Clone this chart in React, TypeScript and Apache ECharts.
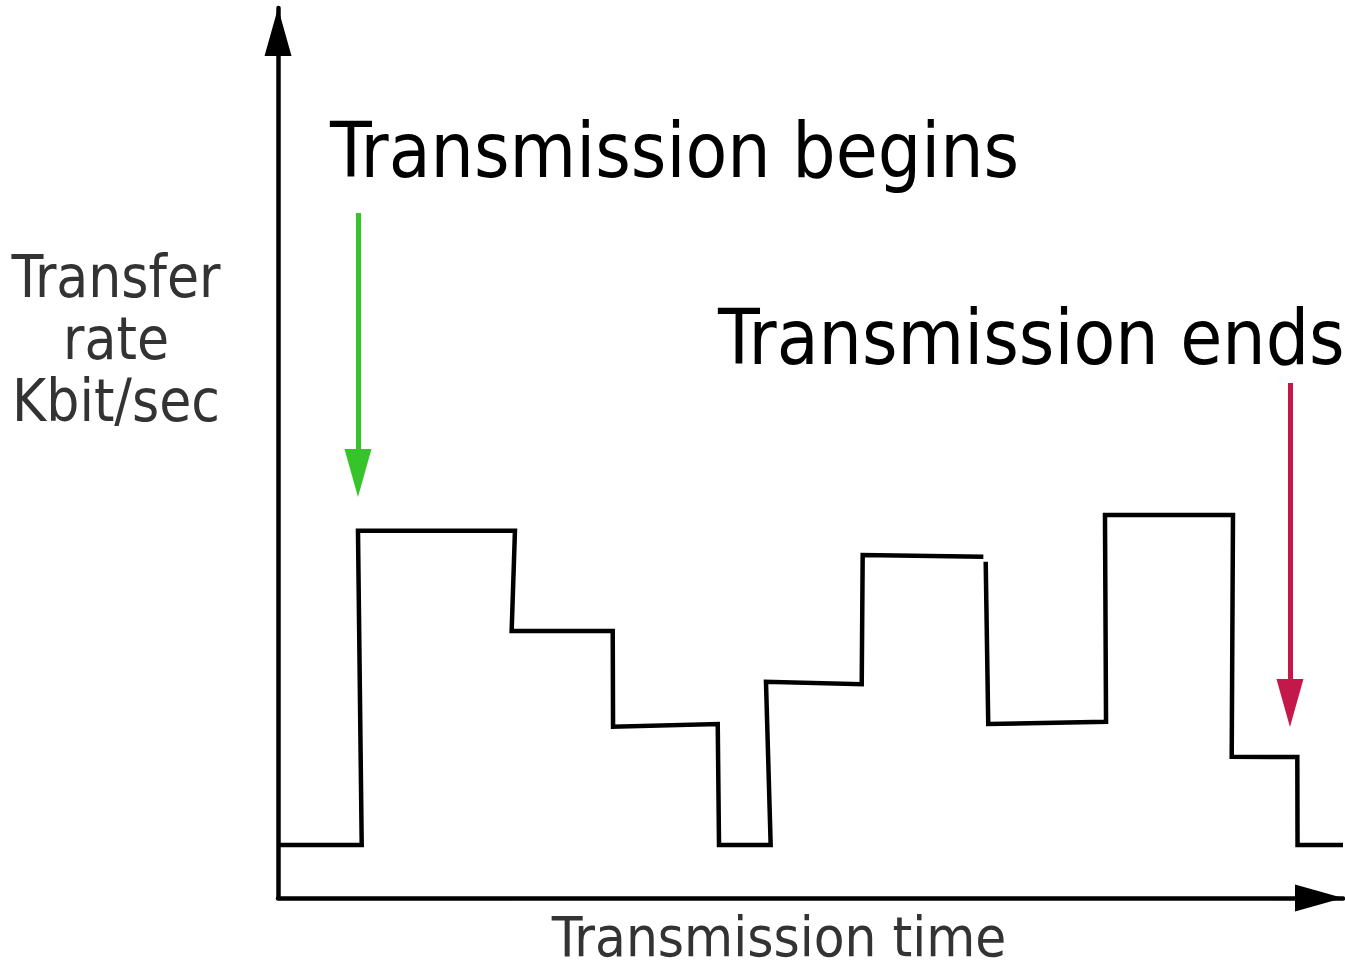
import React, { useEffect, useRef } from "react";
import * as echarts from "echarts";

// ---- data (time units 0..100, rate units 0..100) ----
const stepTime = [0, 7.86, 7.51, 22.25, 21.94, 31.43, 31.46, 41.29, 41.41, 46.26, 45.82, 54.81, 54.9, 66.23, 66.3, 66.45, 66.69, 77.75, 77.65, 89.67, 89.55, 95.71, 95.73, 100];
const stepRate = [5.96, 5.96, 41.27, 41.27, 30.0, 30.0, 19.25, 19.55, 5.96, 5.96, 24.3, 24.01, 38.54, 38.35, null, 37.79, 19.55, 19.81, 43.03, 43.03, 15.88, 15.84, 5.96, 5.96];

const arrowNames = ["Transmission begins", "Transmission ends"];
const arrowTime = [7.51, 95.02];
const arrowFrom = [76.97, 57.87];
const arrowTip = [45.06, 19.21];
const arrowColors = ["#36c42a", "#c4174a"];

const X_MIN = 0, X_MAX = 100, Y_MIN = 0, Y_MAX = 100;

const FONT = '"DejaVu Sans Condensed", "DejaVu Sans", sans-serif';

export default function App() {
  const ref = useRef<HTMLDivElement>(null);
  useEffect(() => {
    document.body.style.margin = "0";
    if (!ref.current) return;
    const chart = echarts.init(ref.current, null, { renderer: "svg" });
    const H = 970;
    const grid = { left: 278, top: 8, right: 2, bottom: 72 };
    const plotH = H - grid.top - grid.bottom;
    const unitsPerPx = (Y_MAX - Y_MIN) / plotH;
    const HEAD_W = 27, HEAD_L = 48;

    const lineData = stepTime.map((t, i) => [t, stepRate[i] == null ? "-" : stepRate[i]]);

    const markData = arrowTime.map((t, i) => [
      { coord: [t, arrowFrom[i]], lineStyle: { color: arrowColors[i], width: 5, type: "solid" }, itemStyle: { color: arrowColors[i] } },
      { coord: [t, arrowTip[i] + (HEAD_L / 2) * unitsPerPx] },
    ]);

    const axisLine = {
      show: true, onZero: false,
      symbol: ["none", "triangle"], symbolSize: [HEAD_W, HEAD_L], symbolOffset: [0, -HEAD_L / 2],
      lineStyle: { color: "#000", width: 4.5 },
    };

    chart.setOption({
      animation: false,
      backgroundColor: "#ffffff",
      grid,
      xAxis: {
        type: "value", min: X_MIN, max: X_MAX,
        axisLine,
        axisTick: { show: false }, axisLabel: { show: false }, splitLine: { show: false },
      },
      yAxis: {
        type: "value", min: Y_MIN, max: Y_MAX,
        axisLine,
        axisTick: { show: false }, axisLabel: { show: false }, splitLine: { show: false },
      },
      series: [
        {
          type: "line",
          data: lineData,
          showSymbol: false,
          symbol: "none",
          connectNulls: false,
          clip: false,
          lineStyle: { color: "#000", width: 4.5, join: "miter", cap: "butt" },
          markLine: {
            silent: true,
            symbol: ["none", "triangle"],
            symbolSize: [HEAD_W, HEAD_L],
            label: { show: false },
            emphasis: { disabled: true },
            data: markData,
          },
        },
      ],
      graphic: [
        { type: "text", x: 330, y: 150, silent: true, style: { text: arrowNames[0], font: `76px ${FONT}`, fill: "#000", align: "left", verticalAlign: "middle" } },
        { type: "text", x: 718, y: 337, silent: true, style: { text: arrowNames[1], font: `76px ${FONT}`, fill: "#000", align: "left", verticalAlign: "middle" } },
        { type: "text", x: 116, y: 339, silent: true, style: { text: "Transfer\nrate\nKbit/sec", font: `58px ${FONT}`, lineHeight: 62, fill: "#333", align: "center", verticalAlign: "middle" } },
        { type: "text", x: 779, y: 936, silent: true, style: { text: "Transmission time", font: `56px ${FONT}`, lineHeight: 48, fill: "#333", align: "center", verticalAlign: "middle" } },
      ],
    });
    return () => chart.dispose();
  }, []);
  return <div ref={ref} style={{ width: 1345, height: 970 }} />;
}
